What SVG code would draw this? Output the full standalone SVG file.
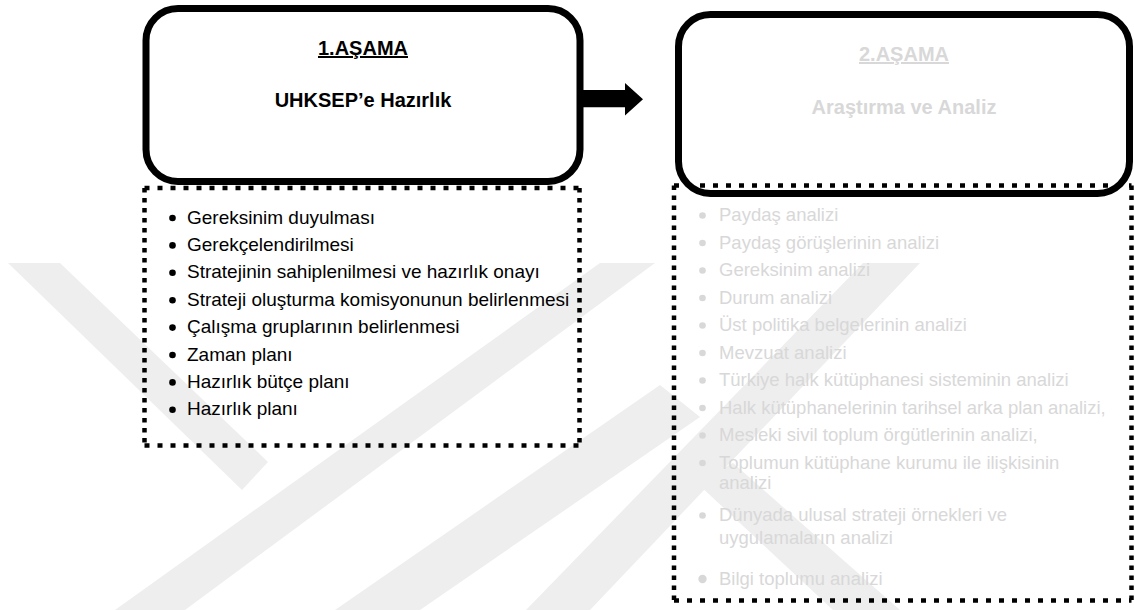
<svg xmlns="http://www.w3.org/2000/svg" width="1134" height="610" viewBox="0 0 1134 610">
<style>
.wm{fill:#eeeeee}
.box{fill:none;stroke:#000;stroke-width:7}
.dh{stroke:#000;stroke-width:4.5;stroke-dasharray:5 8;fill:none}
.dv{stroke:#000;stroke-width:4.5;stroke-dasharray:4.5 5.5;fill:none}
.hd{font-family:"Liberation Sans",Arial,sans-serif;font-size:20px;font-weight:bold;text-anchor:middle}
.it{font-family:"Liberation Sans",Arial,sans-serif;font-size:19px}
.it2{font-family:"Liberation Sans",Arial,sans-serif;font-size:18.5px}
.dark{fill:#000}
.light{fill:#d8d8d8}
</style>
<rect width="1134" height="610" fill="#fff"/>
<g id="watermark">
<polygon class="wm" points="8,263 60,263 268,462 242,490"/>
<polygon class="wm" points="115,610 185,610 655,263 600,263"/>
<polygon class="wm" points="335,610 420,610 700,417 660,385"/>
<polygon class="wm" points="863,263 920,263 590,610 526,610"/>
<polygon class="wm" points="697,483 733,463 900,610 833,610"/>
</g>
<g id="stage1">
<rect class="box" x="146" y="8.5" width="434" height="173" rx="32" ry="32"/>
<text class="hd dark" x="363" y="55" text-decoration="underline">1.AŞAMA</text>
<text class="hd dark" x="363" y="107">UHKSEP’e Hazırlık</text>
</g>
<g id="stage1-list">
<line class="dh" x1="144.5" y1="188" x2="579.5" y2="188"/>
<line class="dh" x1="144.5" y1="445.5" x2="579.5" y2="445.5"/>
<line class="dv" x1="144.5" y1="188" x2="144.5" y2="445.5"/>
<line class="dv" x1="579.5" y1="188" x2="579.5" y2="445.5"/>
<g class="dark">
<circle cx="172.5" cy="218" r="3.3"/>
<circle cx="172.5" cy="245.4" r="3.3"/>
<circle cx="172.5" cy="272.8" r="3.3"/>
<circle cx="172.5" cy="300.2" r="3.3"/>
<circle cx="172.5" cy="327.6" r="3.3"/>
<circle cx="172.5" cy="355" r="3.3"/>
<circle cx="172.5" cy="382.4" r="3.3"/>
<circle cx="172.5" cy="409.8" r="3.3"/>
</g>
<g class="it dark">
<text x="187" y="223.5">Gereksinim duyulması</text>
<text x="187" y="250.9">Gerekçelendirilmesi</text>
<text x="187" y="278.3">Stratejinin sahiplenilmesi ve hazırlık onayı</text>
<text x="187" y="305.7">Strateji oluşturma komisyonunun belirlenmesi</text>
<text x="187" y="333.1">Çalışma gruplarının belirlenmesi</text>
<text x="187" y="360.5">Zaman planı</text>
<text x="187" y="387.9">Hazırlık bütçe planı</text>
<text x="187" y="415.3">Hazırlık planı</text>
</g>
</g>
<g id="stage2">
<rect class="box" x="678.5" y="14.5" width="451" height="179" rx="32" ry="32"/>
<text class="hd light" x="904" y="61" text-decoration="underline">2.AŞAMA</text>
<text class="hd light" x="904" y="114">Araştırma ve Analiz</text>
</g>
<g id="stage2-list">
<line class="dh" x1="674" y1="185.5" x2="1131.5" y2="185.5"/>
<line class="dh" x1="674" y1="600.5" x2="1131.5" y2="600.5"/>
<line class="dv" x1="674" y1="185.5" x2="674" y2="600.5"/>
<line class="dv" x1="1131.5" y1="185.5" x2="1131.5" y2="600.5"/>
<g class="light">
<circle cx="702.5" cy="215.5" r="3.3"/>
<circle cx="702.5" cy="243" r="3.3"/>
<circle cx="702.5" cy="270.5" r="3.3"/>
<circle cx="702.5" cy="298" r="3.3"/>
<circle cx="702.5" cy="325.5" r="3.3"/>
<circle cx="702.5" cy="353" r="3.3"/>
<circle cx="702.5" cy="380.5" r="3.3"/>
<circle cx="702.5" cy="408" r="3.3"/>
<circle cx="702.5" cy="435.5" r="3.3"/>
<circle cx="702.5" cy="463" r="3.3"/>
<circle cx="702.5" cy="515.5" r="3.3"/>
<circle cx="702.5" cy="579" r="4.2"/>
</g>
<g class="it2 light">
<text x="719" y="221">Paydaş analizi</text>
<text x="719" y="248.5">Paydaş görüşlerinin analizi</text>
<text x="719" y="276">Gereksinim analizi</text>
<text x="719" y="303.5">Durum analizi</text>
<text x="719" y="331">Üst politika belgelerinin analizi</text>
<text x="719" y="358.5">Mevzuat analizi</text>
<text x="719" y="386">Türkiye halk kütüphanesi sisteminin analizi</text>
<text x="719" y="413.5">Halk kütüphanelerinin tarihsel arka plan analizi,</text>
<text x="719" y="441">Mesleki sivil toplum örgütlerinin analizi,</text>
<text x="719" y="468.5">Toplumun kütüphane kurumu ile ilişkisinin</text>
<text x="719" y="489">analizi</text>
<text x="719" y="521">Dünyada ulusal strateji örnekleri ve</text>
<text x="719" y="544">uygulamaların analizi</text>
<text x="719" y="585">Bilgi toplumu analizi</text>
</g>
</g>
<g id="connectors">
<polygon fill="#000" points="583,90 625,90 625,83 643,99.3 625,115.5 625,107.3 583,107.3"/>
</g>
</svg>
